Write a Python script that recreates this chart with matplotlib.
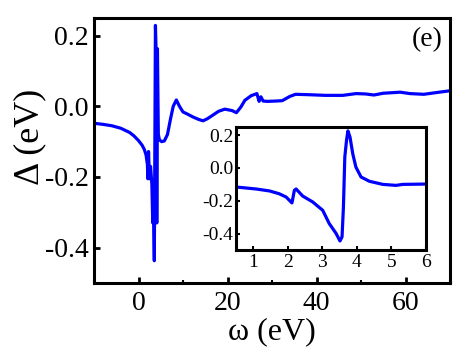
import matplotlib
matplotlib.use("Agg")
import matplotlib.pyplot as plt
from matplotlib.ticker import MultipleLocator

plt.rcParams['font.family'] = ['Liberation Serif', 'DejaVu Serif']
plt.rcParams['axes.unicode_minus'] = False

# Main curve: omega (eV) vs Delta (eV)
main_w = [-10, -8, -6, -4, -2, -1, 0, 0.8, 1.3, 1.7, 2.0, 2.1, 2.25, 2.45, 2.7,
          3.0, 3.2, 3.35, 3.55, 3.8, 4.0, 4.1, 4.25, 4.45, 4.7, 5.2, 5.8, 6.5,
          7.2, 7.8, 8.5, 9.2, 10, 11, 12.2, 13.5, 14.5, 15.5, 16.7, 18, 19.4,
          21, 22, 23, 23.9, 25.3, 26.6, 27.1, 27.5, 28, 29, 31, 32.3, 34, 35.3,
          38, 42, 45.9, 48.9, 51, 52.9, 55, 58.8, 61, 64.1, 67, 70]
main_d = [-0.048, -0.051, -0.055, -0.062, -0.074, -0.084, -0.097, -0.110,
          -0.122, -0.138, -0.165, -0.205, -0.128, -0.205, -0.170, -0.220,
          -0.330, -0.260, -0.437, 0.229, 0.130, -0.330, 0.163, -0.080,
          -0.095, -0.100, -0.098, -0.080, -0.035, 0.000, 0.018, 0.000,
          -0.016, -0.022, -0.030, -0.037, -0.041, -0.035, -0.025, -0.014,
          -0.008, -0.012, -0.018, -0.002, 0.017, 0.030, 0.036, 0.014, 0.027,
          0.015, 0.014, 0.015, 0.016, 0.028, 0.034, 0.033, 0.031, 0.031,
          0.036, 0.035, 0.032, 0.037, 0.040, 0.036, 0.034, 0.039, 0.044]

# Inset curve (0.5 - 6 eV)
inset_w = [0.5, 1.08, 1.47, 1.75, 1.95, 2.12, 2.19, 2.24, 2.43, 2.72, 3.01,
           3.2, 3.4, 3.51, 3.57, 3.61, 3.65, 3.70, 3.74, 3.80, 3.88, 3.97,
           4.12, 4.36, 4.75, 5.13, 5.33, 6.0]
inset_d = [-0.116, -0.128, -0.140, -0.157, -0.177, -0.213, -0.136, -0.128,
           -0.171, -0.207, -0.258, -0.339, -0.400, -0.445, -0.420, -0.238,
           0.067, 0.169, 0.226, 0.189, 0.087, 0.006, -0.055, -0.081, -0.100,
           -0.106, -0.100, -0.098]

main_xticks = [0, 20, 40, 60]
main_yticks = [-0.4, -0.2, 0.0, 0.2]
inset_xticks = [1, 2, 3, 4, 5, 6]
inset_yticks = [-0.4, -0.2, 0.0, 0.2]

fig = plt.figure(figsize=(4.72, 3.54), dpi=100)
ax = fig.add_axes([0.1992, 0.2006, 0.7542, 0.7486])
ax.plot(main_w, main_d, color='#0000ff', lw=2.3)
ax.set_xlim(-10, 70)
ax.set_ylim(-0.5, 0.25)
ax.set_xticks(main_xticks)
ax.set_yticks(main_yticks)
ax.set_yticklabels([f"{v:.1f}" for v in main_yticks])
ax.xaxis.set_minor_locator(MultipleLocator(10))
ax.tick_params(which='major', direction='in', length=4, width=2,
               labelsize=20, pad=4, top=False, right=False)
ax.tick_params(axis='x', which='major', pad=6)
ax.tick_params(which='minor', direction='in', length=2, width=1.5,
               top=False, right=False)
ax.tick_params(axis='y', which='minor', left=False)
for s in ax.spines.values():
    s.set_linewidth(2.2)
ax.set_xlabel('ω (eV)', fontsize=23, labelpad=1)
ax.set_ylabel('Δ (eV)', fontsize=26)
ax.yaxis.set_label_coords(-0.135, 0.55)
ax.text(0.935, 0.92, '(e)', transform=ax.transAxes, fontsize=20,
        ha='center', va='center')

ins = fig.add_axes([0.5, 0.2938, 0.4025, 0.3475])
ins.plot(inset_w, inset_d, color='#0000ff', lw=2.3)
ins.set_xlim(0.5, 6)
ins.set_ylim(-0.5, 0.25)
ins.set_xticks(inset_xticks)
ins.set_yticks(inset_yticks)
ins.set_yticklabels([f"{v:.1f}" for v in inset_yticks])
ins.tick_params(direction='in', length=3, width=1.5, labelsize=14, pad=2)
ins.tick_params(axis='x', pad=3)
for s in ins.spines.values():
    s.set_linewidth(2.2)

fig.savefig('out.png', dpi=100)
